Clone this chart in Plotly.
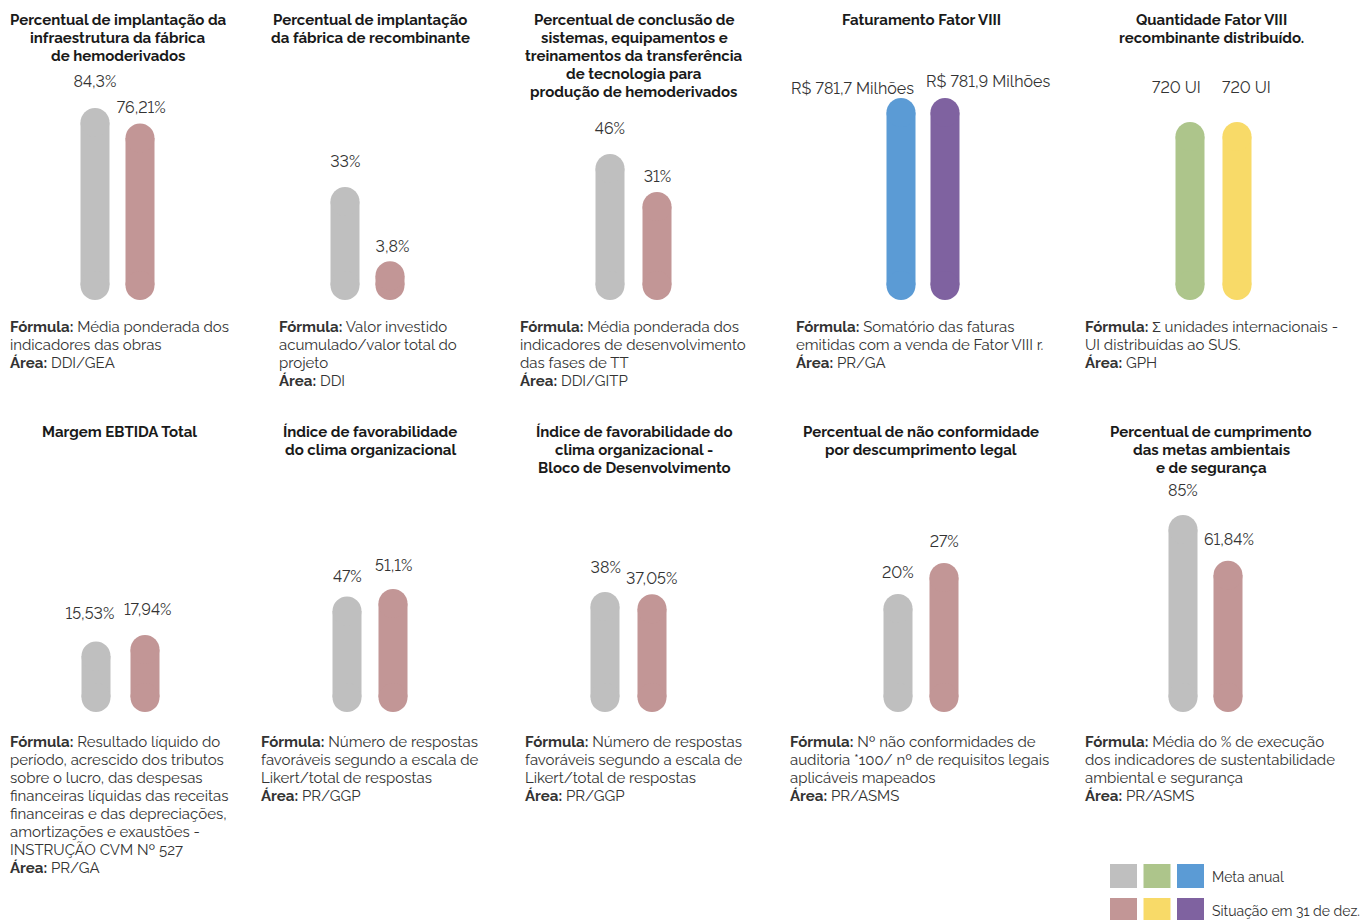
import plotly.graph_objects as go

# ---------------- data ----------------
titles = [
    "Percentual de implantação da<br>infraestrutura da fábrica<br>de hemoderivados",
    "Percentual de implantação<br>da fábrica de recombinante",
    "Percentual de conclusão de<br>sistemas, equipamentos e<br>treinamentos da transferência<br>de tecnologia para<br>produção de hemoderivados",
    "Faturamento Fator VIII",
    "Quantidade Fator VIII<br>recombinante distribuído.",
    "Margem EBTIDA Total",
    "Índice de favorabilidade<br>do clima organizacional",
    "Índice de favorabilidade do<br>clima organizacional -<br>Bloco de Desenvolvimento",
    "Percentual de não conformidade<br>por descumprimento legal",
    "Percentual de cumprimento<br>das metas ambientais<br>e de segurança",
]
meta_values = [84.3, 33, 46, 781.7, 720, 15.53, 47, 38, 20, 85]
situacao_values = [76.21, 3.8, 31, 781.9, 720, 17.94, 51.1, 37.05, 27, 61.84]
meta_labels = ["84,3%", "33%", "46%", "R$ 781,7 Milhões", "720 UI",
               "15,53%", "47%", "38%", "20%", "85%"]
situacao_labels = ["76,21%", "3,8%", "31%", "R$ 781,9 Milhões", "720 UI",
                   "17,94%", "51,1%", "37,05%", "27%", "61,84%"]
formulas = [
    "Média ponderada dos<br>indicadores das obras",
    "Valor investido<br>acumulado/valor total do<br>projeto",
    "Média ponderada dos<br>indicadores de desenvolvimento<br>das fases de TT",
    "Somatório das faturas<br>emitidas com a venda de Fator VIII r.",
    "Σ unidades internacionais -<br>UI distribuídas ao SUS.",
    "Resultado líquido do<br>período, acrescido dos tributos<br>sobre o lucro, das despesas<br>financeiras líquidas das receitas<br>financeiras e das depreciações,<br>amortizações e exaustões -<br>INSTRUÇÃO CVM Nº 527",
    "Número de respostas<br>favoráveis segundo a escala de<br>Likert/total de respostas",
    "Número de respostas<br>favoráveis segundo a escala de<br>Likert/total de respostas",
    "Nº não conformidades de<br>auditoria *100/ nº de requisitos legais<br>aplicáveis mapeados",
    "Média do % de execução<br>dos indicadores de sustentabilidade<br>ambiental e segurança",
]
areas = ["DDI/GEA", "DDI", "DDI/GITP", "PR/GA", "GPH",
         "PR/GA", "PR/GGP", "PR/GGP", "PR/ASMS", "PR/ASMS"]
legend_labels = ["Meta anual", "Situação em 31 de dez."]

# ---------------- styles / layout ----------------
GRAY, PINK = "#bfbfbf", "#c29696"
BLUE, PURPLE = "#5b9bd5", "#7f62a0"
GREEN, YELLOW = "#adc58b", "#f8da68"
meta_colors = [GRAY, GRAY, GRAY, BLUE, GREEN, GRAY, GRAY, GRAY, GRAY, GRAY]
sit_colors = [PINK, PINK, PINK, PURPLE, YELLOW, PINK, PINK, PINK, PINK, PINK]

W, H = 1371, 920
FONT = "Raleway, 'Open Sans', sans-serif"
TEXT = "#333333"
BAR = 29          # bar thickness in px
LINE_H = 18       # text line height in px

def px(x):
    return x / W

def py(y):
    return 1 - y / H

# panel geometry (pixels)
bar_center0 = [95, 345, 610, 901, 1190, 96, 347, 605, 898, 1183]
bar_gap = [45, 45, 47, 44, 47, 49, 46, 47, 46, 45]
y_max = [103.4, 78.6, 78.6, 903.9, 966.4, 74.75, 108.7, 83.5, 45, 101.2]
zero_px = [285.5] * 5 + [697.5] * 5
title_cx = [118, 370, 634, 921, 1211, 119, 370, 634, 921, 1211]
title_first = [20] * 5 + [432] * 5
form_left = [8, 277, 518, 794, 1083, 8, 259, 523, 788, 1083]
form_first = [327] * 5 + [742] * 5
# value-label offsets (px): gap above the bar top, horizontal shift
meta_gap = [26, 26, 25, 10, 34, 28, 20, 24, 22, 25]
sit_gap = [16, 15, 16, 16, 34, 26, 23, 16, 22, 21]
meta_dx = [0, 0, 0, 15, -14, -6, 0, 0, 0, 0]
sit_dx = [1, 2, 0, -21, 9, 2, 0, 0, 0, 1]

fig = go.Figure()
annotations = []
layout_axes = {}


def text_lines(lines, x, first, xanchor, align, size):
    for j, ln in enumerate(lines):
        annotations.append(dict(
            x=px(x), y=py(first + LINE_H * j), xref="paper", yref="paper",
            xanchor=xanchor, yanchor="middle", align=align, showarrow=False,
            text=ln, font=dict(family=FONT, size=size, color=TEXT)))


for k in range(10):
    n = k + 1
    xa = "x" if n == 1 else f"x{n}"
    ya = "y" if n == 1 else f"y{n}"
    c0, d = bar_center0[k], bar_gap[k]
    z = zero_px[k]
    layout_axes["xaxis" if n == 1 else f"xaxis{n}"] = dict(
        domain=[px(c0 - d), px(c0 + 2 * d)], range=[-1, 2], visible=False,
        anchor=ya, fixedrange=True)
    layout_axes["yaxis" if n == 1 else f"yaxis{n}"] = dict(
        domain=[py(z), py(z - 200)], range=[0, y_max[k]], visible=False,
        anchor=xa, fixedrange=True)

    bars = [(meta_values[k], meta_colors[k], meta_labels[k], meta_gap[k], meta_dx[k]),
            (situacao_values[k], sit_colors[k], situacao_labels[k], sit_gap[k], sit_dx[k])]
    for i, (val, col, lab, gap, dx) in enumerate(bars):
        fig.add_trace(go.Scatter(
            x=[i, i], y=[0, val], xaxis=xa, yaxis=ya,
            mode="lines+markers",
            line=dict(color=col, width=BAR),
            marker=dict(color=col, size=BAR, line=dict(width=0)),
            cliponaxis=False, showlegend=False, hoverinfo="skip"))
        ann = dict(x=i, y=val, xref=xa, yref=ya, text=lab, showarrow=False,
                   yanchor="middle", yshift=BAR / 2 + gap, xshift=dx,
                   font=dict(family=FONT, size=16, color=TEXT))
        if k == 3:
            ann.update(xanchor="right" if i == 0 else "left")
        annotations.append(ann)

    # title
    tl = titles[k].split("<br>")
    for j, ln in enumerate(tl):
        annotations.append(dict(
            x=px(title_cx[k]), y=py(title_first[k] + LINE_H * j),
            xref="paper", yref="paper", xanchor="center", yanchor="middle",
            showarrow=False, text=f"<b>{ln}</b>",
            font=dict(family=FONT, size=15, color="#1a1a1a")))

    # formula + area
    fl = formulas[k].split("<br>")
    fl[0] = "<b>Fórmula:</b> " + fl[0]
    fl.append(f"<b>Área:</b> {areas[k]}")
    text_lines(fl, form_left[k], form_first[k], "left", "left", 15)

# legend (drawn swatches)
shapes = []
legend_rows = [([GRAY, GREEN, BLUE], 864, 888), ([PINK, YELLOW, PURPLE], 898, 922)]
for (cols, y0, y1), lab in zip(legend_rows, legend_labels):
    for j, c in enumerate(cols):
        x0 = 1110 + j * 33.5
        shapes.append(dict(type="rect", xref="paper", yref="paper",
                           x0=px(x0), x1=px(x0 + 27), y0=py(y1), y1=py(y0),
                           fillcolor=c, line=dict(width=0)))
    annotations.append(dict(
        x=px(1210), y=py((y0 + y1) / 2 + 1), xref="paper", yref="paper",
        xanchor="left", yanchor="middle", showarrow=False, text=lab,
        font=dict(family=FONT, size=14, color=TEXT)))

fig.update_layout(
    width=W, height=H, margin=dict(l=0, r=0, t=0, b=0),
    paper_bgcolor="white", plot_bgcolor="white",
    annotations=annotations, shapes=shapes, **layout_axes)

post = """
document.body.style.margin='0';
document.body.style.overflow='hidden';
document.querySelectorAll('.annotation-text').forEach(function(t){
  if (/^(\\d|R\\$)/.test(t.textContent)) { t.style.fontVariantNumeric='lining-nums'; }
});
"""
fig.write_html("out.html", post_script=post, config={"displayModeBar": False})
